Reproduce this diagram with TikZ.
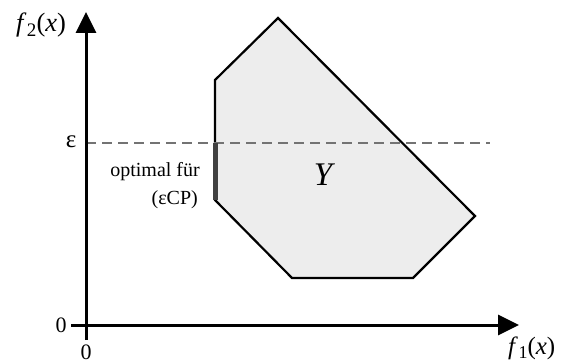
\documentclass[tikz,border=0pt]{standalone}
\usepackage{fontspec}
\setmainfont{Liberation Serif}
\usetikzlibrary{arrows.meta}
\newcommand{\fx}[1]{\textit{f}\kern0.5pt\raisebox{-0.18em}{\scalebox{0.72}{#1}}(\textit{x})}
\begin{document}
\begin{tikzpicture}[x=1pt,y=-1pt,
  axis/.style={line width=3pt,-{Triangle[length=21pt,width=20pt]}},
  region/.style={draw=black,fill=black!7,line width=2.2pt,line join=miter},
  epsline/.style={draw=black!55,line width=1.8pt,dash pattern=on 10pt off 6pt},
  optseg/.style={draw=black!75,line width=5pt},
  biglbl/.style={font=\fontsize{26.5}{29}\selectfont,inner sep=0pt},
  numlbl/.style={font=\fontsize{22}{24}\selectfont,inner sep=0pt},
  smalllbl/.style={font=\fontsize{20}{22}\selectfont,inner sep=0pt}]
\useasboundingbox (0,0) rectangle (564,363);
\coordinate (xs) at (71,325);
\coordinate (xe) at (519,325);
\coordinate (ys) at (86,340);
\coordinate (ye) at (86,12);
\coordinate (e0) at (86,143);
\coordinate (e1) at (490,143);
% region
\coordinate (p1) at (278,18);
\coordinate (p2) at (215,80);
\coordinate (p3) at (215,200);
\coordinate (p4) at (292,278);
\coordinate (p5) at (413,278);
\coordinate (p6) at (475,216);
\coordinate (q) at (215,143);
\draw[region] (p1) -- (p2) -- (p3) -- (p4) -- (p5) -- (p6) -- cycle;
\draw[epsline] (e0) -- (e1);
\draw[optseg] (q) -- (p3);
\draw[axis] (xs) -- (xe);
\draw[axis] (ys) -- (ye);
\node[biglbl] (f2) at (41,25) {\fx{2}};
\node[font=\fontsize{25}{28}\selectfont,inner sep=0pt,anchor=west] (f1) at (508,348) {\fx{1}};
\node[font=\fontsize{25}{28}\selectfont,inner sep=0pt] (eps) at (71,142) {ε};
\node[numlbl] (zy) at (61,325) {0};
\node[numlbl] (zx) at (86,352) {0};
\node[font=\fontsize{33}{36}\selectfont\itshape,inner sep=0pt] (Y) at (323,175) {Y};
\node[smalllbl,anchor=east] (opt) at (200,172) {optimal für};
\node[smalllbl,anchor=east] (ecp) at (198,200) {(εCP)};
\end{tikzpicture}
\end{document}
